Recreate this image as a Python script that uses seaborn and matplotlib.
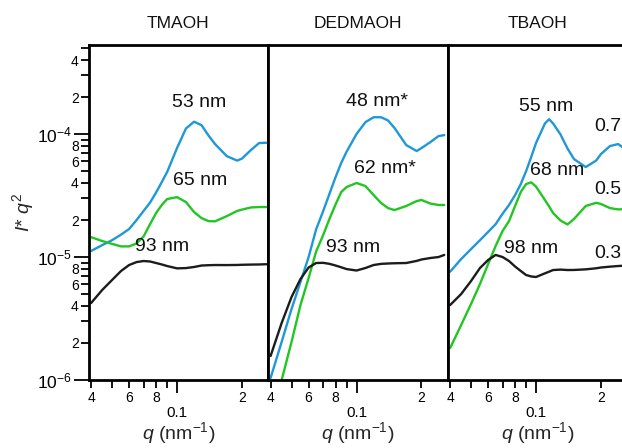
import numpy as np
import pandas as pd
import matplotlib
matplotlib.use("Agg")
import matplotlib.pyplot as plt
import seaborn as sns
from matplotlib.ticker import FixedLocator, FixedFormatter

# ---------------- data ----------------
panels = ["TMAOH", "DEDMAOH", "TBAOH"]
series = ["0.7", "0.5", "0.3"]

# TMAOH
q_tma = [0.04, 0.045, 0.05, 0.055, 0.06, 0.065, 0.07, 0.075, 0.08, 0.085, 0.09, 0.1,
         0.11, 0.12, 0.13, 0.14, 0.15, 0.17, 0.19, 0.2, 0.22, 0.24, 0.26]
tma_07 = [1.12e-5, 1.25e-5, 1.37e-5, 1.52e-5, 1.69e-5, 2.0e-5, 2.37e-5, 2.77e-5, 3.35e-5, 4.07e-5,
          4.91e-5, 7.69e-5, 1.11e-4, 1.26e-4, 1.18e-4, 9.72e-5, 8.3e-5, 6.62e-5, 6.08e-5, 6.32e-5,
          7.41e-5, 8.45e-5, 8.5e-5]
tma_05 = [1.45e-5, 1.35e-5, 1.28e-5, 1.22e-5, 1.22e-5, 1.29e-5, 1.47e-5, 1.85e-5, 2.28e-5, 2.65e-5,
          2.96e-5, 3.07e-5, 2.80e-5, 2.32e-5, 2.07e-5, 1.96e-5, 1.95e-5, 2.15e-5, 2.37e-5, 2.43e-5,
          2.53e-5, 2.55e-5, 2.55e-5]
tma_03 = [4.23e-6, 5.39e-6, 6.50e-6, 7.69e-6, 8.61e-6, 9.10e-6, 9.28e-6, 9.2e-6, 8.94e-6, 8.7e-6,
          8.45e-6, 8.09e-6, 8.13e-6, 8.3e-6, 8.53e-6, 8.58e-6, 8.61e-6, 8.6e-6, 8.62e-6, 8.65e-6,
          8.68e-6, 8.7e-6, 8.74e-6]

# DEDMAOH
q_ded = [0.04, 0.045, 0.05, 0.055, 0.06, 0.065, 0.07, 0.075, 0.08, 0.085, 0.09, 0.1,
         0.11, 0.12, 0.13, 0.14, 0.15, 0.17, 0.19, 0.2, 0.22, 0.24, 0.255]
ded_07 = [1.04e-6, 2.04e-6, 3.78e-6, 6.26e-6, 1.0e-5, 1.68e-5, 2.35e-5, 3.28e-5, 4.47e-5, 5.83e-5,
          7.2e-5, 1.0e-4, 1.25e-4, 1.37e-4, 1.37e-4, 1.29e-4, 1.12e-4, 8.14e-5, 7.28e-5, 7.69e-5,
          8.61e-5, 9.63e-5, 9.8e-5]
q_ded_05 = [0.045, 0.05, 0.055, 0.06, 0.065, 0.07, 0.075, 0.08, 0.085, 0.09, 0.1,
            0.11, 0.12, 0.13, 0.14, 0.15, 0.17, 0.19, 0.2, 0.22, 0.24, 0.255]
ded_05 = [1.0e-6, 2.04e-6, 4.07e-6, 6.75e-6, 1.11e-5, 1.5e-5, 2.05e-5, 2.68e-5, 3.38e-5, 3.71e-5,
          4.0e-5, 3.78e-5, 3.19e-5, 2.75e-5, 2.50e-5, 2.41e-5, 2.6e-5, 2.85e-5, 2.91e-5, 2.72e-5,
          2.65e-5, 2.65e-5]
ded_03 = [1.57e-6, 2.91e-6, 4.73e-6, 6.62e-6, 8.22e-6, 8.94e-6, 8.97e-6, 8.8e-6, 8.53e-6, 8.25e-6,
          7.98e-6, 7.77e-6, 8.14e-6, 8.61e-6, 8.8e-6, 8.86e-6, 8.9e-6, 8.94e-6, 9.3e-6, 9.55e-6,
          9.82e-6, 1.0e-5, 1.04e-5]

# TBAOH
q_tba = [0.04, 0.045, 0.05, 0.055, 0.06, 0.065, 0.07, 0.075, 0.08, 0.085, 0.09, 0.095, 0.1,
         0.11, 0.115, 0.12, 0.13, 0.14, 0.15, 0.17, 0.19, 0.2, 0.22, 0.24, 0.255]
tba_07 = [7.6e-6, 9.63e-6, 1.16e-5, 1.37e-5, 1.6e-5, 1.85e-5, 2.25e-5, 2.65e-5, 3.19e-5, 3.92e-5,
          5.0e-5, 6.5e-5, 8.45e-5, 1.22e-4, 1.32e-4, 1.22e-4, 9.9e-5, 7.62e-5, 6.26e-5, 5.39e-5,
          6.09e-5, 6.88e-5, 7.98e-5, 8.3e-5, 7.69e-5]
tba_05 = [1.82e-6, 2.80e-6, 4.15e-6, 6.03e-6, 8.77e-6, 1.23e-5, 1.63e-5, 1.96e-5, 2.6e-5, 3.38e-5,
          3.92e-5, 4.05e-5, 3.74e-5, 2.91e-5, 2.58e-5, 2.28e-5, 1.98e-5, 1.84e-5, 2.04e-5, 2.6e-5,
          2.76e-5, 2.7e-5, 2.5e-5, 2.44e-5, 2.45e-5]
tba_03 = [4.07e-6, 5.0e-6, 6.38e-6, 8.14e-6, 9.46e-6, 1.04e-5, 1.0e-5, 9.28e-6, 8.37e-6, 7.7e-6,
          7.14e-6, 6.95e-6, 6.88e-6, 7.37e-6, 7.6e-6, 7.84e-6, 7.9e-6, 7.84e-6, 7.85e-6, 7.94e-6,
          8.1e-6, 8.22e-6, 8.35e-6, 8.45e-6, 8.5e-6]

# peak labels: (text, q, value, ha)
labels_tma = [("53 nm", 0.127, 1.79e-4, "center"), ("65 nm", 0.128, 4.23e-5, "center"),
              ("93 nm", 0.0852, 1.21e-5, "center")]
labels_ded = [("48 nm*", 0.0896, 1.83e-4, "left"), ("62 nm*", 0.0976, 5.26e-5, "left"),
              ("93 nm", 0.0724, 1.2e-5, "left")]
labels_tba = [("55 nm", 0.0837, 1.67e-4, "left"), ("68 nm", 0.0938, 5.03e-5, "left"),
              ("98 nm", 0.0713, 1.18e-5, "left"), ("0.7", 0.186, 1.15e-4, "left"),
              ("0.5", 0.186, 3.51e-5, "left"), ("0.3", 0.186, 1.07e-5, "left")]

x_minor = [0.04, 0.05, 0.06, 0.07, 0.08, 0.09, 0.2, 0.3]
x_minor_labels = ["4", "", "6", "", "8", "", "2", ""]
y_major = [1e-6, 1e-5, 1e-4]
y_major_labels = [r"$10^{-6}$", r"$10^{-5}$", r"$10^{-4}$"]
y_minor = [m * d for d in (1e-6, 1e-5) for m in range(2, 10)] + [2e-4, 3e-4, 4e-4, 5e-4]
y_minor_labels = ([l for _ in range(2) for l in ["2", "", "4", "", "6", "", "8", ""]]
                  + ["2", "", "4", ""])

# ---------------- build table ----------------
rows = []
def add(panel, ser, qs, vs):
    for q, v in zip(qs, vs):
        rows.append(dict(panel=panel, series=ser, q=q, v=v))

add("TMAOH", "0.7", q_tma, tma_07); add("TMAOH", "0.5", q_tma, tma_05); add("TMAOH", "0.3", q_tma, tma_03)
add("DEDMAOH", "0.7", q_ded, ded_07); add("DEDMAOH", "0.5", q_ded_05, ded_05); add("DEDMAOH", "0.3", q_ded, ded_03)
add("TBAOH", "0.7", q_tba, tba_07); add("TBAOH", "0.5", q_tba, tba_05); add("TBAOH", "0.3", q_tba, tba_03)
df = pd.DataFrame(rows)

# ---------------- style ----------------
sns.set_style("ticks")
plt.rcParams["font.family"] = ["Liberation Sans", "DejaVu Sans"]
plt.rcParams["mathtext.fontset"] = "custom"
plt.rcParams["mathtext.rm"] = "Liberation Sans"
plt.rcParams["mathtext.it"] = "Liberation Sans:italic"
plt.rcParams["mathtext.bf"] = "Liberation Sans:bold"
plt.rcParams["axes.unicode_minus"] = False

palette = {"0.7": "#1f98d8", "0.5": "#22c622", "0.3": "#1c1c1c"}

fig = plt.figure(figsize=(6.22, 4.48), dpi=100)
W, H = 622.0, 448.0
left0, pw = 88.5, 179.5
bottom, top = 380.0, 45.0
axes = []
for i in range(3):
    ax = fig.add_axes([(left0 + i * pw) / W, (H - bottom) / H, pw / W, (bottom - top) / H])
    axes.append(ax)

all_labels = [labels_tma, labels_ded, labels_tba]
for i, (ax, name) in enumerate(zip(axes, panels)):
    sub = df[df.panel == name]
    sns.lineplot(data=sub, x="q", y="v", hue="series", hue_order=series, palette=palette,
                 estimator=None, sort=False, legend=False, linewidth=1.7, ax=ax)
    ax.set_xscale("log")
    ax.set_yscale("log")
    ax.set_xlim(0.0389, 0.264)
    ax.set_ylim(1e-6, 5.3e-4)
    ax.set_title(name, fontsize=12.5, pad=12, color="#111111")

    ax.xaxis.set_major_locator(FixedLocator([0.1]))
    ax.xaxis.set_major_formatter(FixedFormatter(["0.1"]))
    ax.xaxis.set_minor_locator(FixedLocator(x_minor))
    ax.xaxis.set_minor_formatter(FixedFormatter(x_minor_labels))
    ax.tick_params(axis="x", which="major", direction="out", length=9, width=1.3,
                   labelsize=11, pad=10, colors="black")
    ax.tick_params(axis="x", which="minor", direction="out", length=6, width=1.3,
                   labelsize=10, pad=2, colors="black")

    ax.yaxis.set_major_locator(FixedLocator(y_major))
    ax.yaxis.set_minor_locator(FixedLocator(y_minor))
    if i == 0:
        ax.yaxis.set_major_formatter(FixedFormatter(y_major_labels))
        ax.yaxis.set_minor_formatter(FixedFormatter(y_minor_labels))
        ax.tick_params(axis="y", which="major", direction="out", length=11, width=1.3,
                       labelsize=12.5, pad=1, colors="black")
        ax.tick_params(axis="y", which="minor", direction="out", length=6, width=1.3,
                       labelsize=10, pad=1, colors="black")
        ax.set_ylabel(r"$I$* $q^2$", fontsize=14)
        ax.yaxis.set_label_coords(-0.29, 0.5)
    else:
        ax.tick_params(axis="y", which="both", left=False, labelleft=False)
        ax.set_ylabel("")

    ax.set_xlabel(r"$q$ (nm$^{-1}$)", fontsize=14)
    ax.xaxis.set_label_coords(0.5, -0.12)

    for s in ax.spines.values():
        s.set_linewidth(2.0)
        s.set_color("black")

    for txt, q, v, ha in all_labels[i]:
        ax.text(q, v, txt, ha=ha, va="center", fontsize=14, color="#111111")

fig.savefig("out.png", dpi=100)
